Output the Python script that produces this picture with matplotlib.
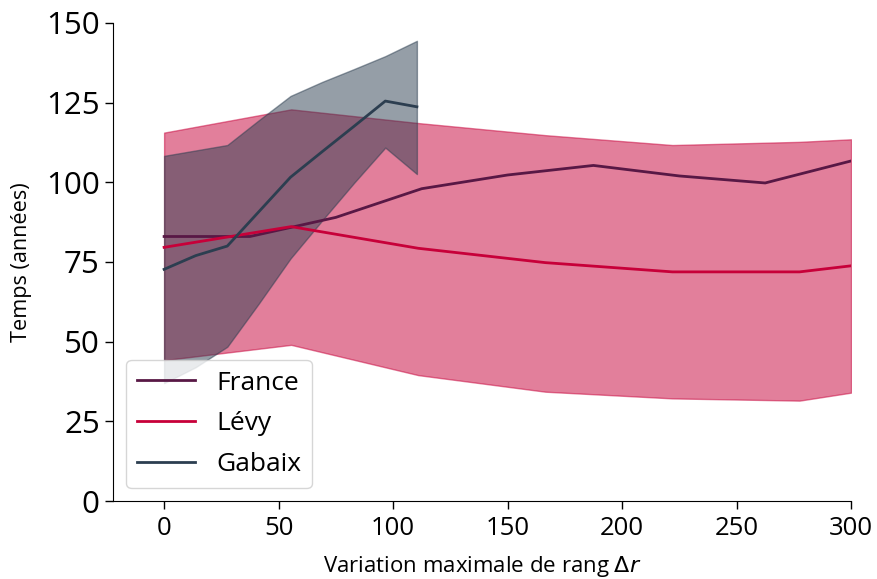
import matplotlib
matplotlib.use("Agg")
import matplotlib.pyplot as plt

plt.rcParams['font.family'] = ['Open Sans', 'DejaVu Sans']

# France
france_x = [0, 37.5, 75, 112.5, 150, 187.5, 225, 262.5, 300]
france_y = [83, 83, 89, 98, 102.3, 105.3, 102, 99.8, 106.7]

# Lévy
levy_x = [0, 55.5, 111, 166.5, 222, 277.5, 300]
levy_y = [79.6, 86.1, 79.3, 74.8, 71.9, 71.9, 73.8]
levy_hi = [115.6, 122.9, 118.6, 114.8, 111.7, 112.7, 113.5]
levy_lo = [44.2, 49, 39.5, 34.3, 32.2, 31.5, 34]

# Gabaix
gab_x = [0, 13.8, 27.6, 41.4, 55.2, 69, 82.8, 96.6, 110.4]
gab_y = [72.7, 77, 80, 90.8, 101.6, 109.6, 117.5, 125.5, 123.7]
gab_hi = [108.3, 110, 111.7, 119.5, 127.1, 131.5, 135.5, 139.6, 144.4]
gab_lo = [37, 42, 48.4, 62, 76.1, 88, 99.7, 110.9, 102.6]

c_france = '#581845'
c_levy = '#c70039'
c_gab = '#2c3e50'

fig = plt.figure(figsize=(8.77, 5.79), dpi=100)
ax = fig.add_axes([0.1289, 0.1347, 0.9704 - 0.1289, 0.9603 - 0.1347])

ax.fill_between(levy_x, levy_lo, levy_hi, color=c_levy, alpha=0.5, lw=1)
ax.fill_between(gab_x, gab_lo, gab_hi, color=c_gab, alpha=0.5, lw=1)
ax.plot(france_x, france_y, color=c_france, lw=2, label='France')
ax.plot(levy_x, levy_y, color=c_levy, lw=2, label='Lévy')
ax.plot(gab_x, gab_y, color=c_gab, lw=2, label='Gabaix')

ax.set_xlim(-22.3, 300)
ax.set_ylim(0, 150)
ax.set_xticks([0, 50, 100, 150, 200, 250, 300])
ax.set_yticks([0, 25, 50, 75, 100, 125, 150])
ax.tick_params(axis='x', labelsize=18.5, length=6, width=1, pad=5)
ax.tick_params(axis='y', labelsize=22.5, length=6, width=1)
for s in ['top', 'right']:
    ax.spines[s].set_visible(False)
ax.set_xlabel('Variation maximale de rang $\\Delta r$', fontsize=16, labelpad=9)
ax.set_ylabel('Temps (années)', fontsize=15.6, labelpad=10)

ax.legend(loc='lower left', fontsize=19, frameon=True, handlelength=2.2,
          labelspacing=0.6)

fig.savefig('out.png', dpi=100)
